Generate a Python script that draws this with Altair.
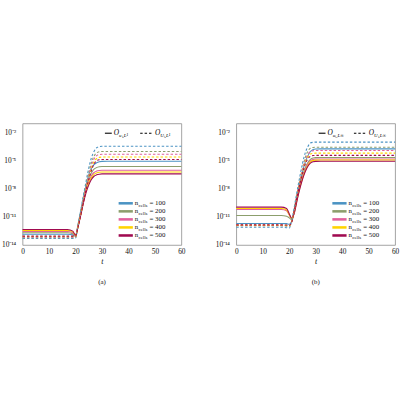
import altair as alt
import pandas as pd

FONT = "Liberation Serif"

# time samples shared by every curve
T = [0, 17, 19, 20, 21, 22, 23, 24, 25, 26, 27, 28, 29, 30, 32, 60]
N_CELLS = [100, 200, 300, 400, 500]
COLORS = ["#4b93c3", "#8c9e6c", "#e0609c", "#ffd400", "#a00a50"]

# log10 of the observables at T, one list per mesh size
A_SOLID = {
    100: [-12.85, -12.85, -12.92, -13.05, -11.75, -10.3, -8.9, -7.6, -6.5, -5.8, -5.4, -5.2, -5.1, -5.06, -5.05, -5.05],
    200: [-12.7, -12.7, -12.8, -13.05, -11.85, -10.45, -9.1, -7.8, -6.9, -6.3, -5.9, -5.72, -5.64, -5.61, -5.6, -5.6],
    300: [-12.55, -12.55, -12.68, -13.0, -11.9, -10.6, -9.3, -8.1, -7.2, -6.6, -6.25, -6.1, -6.03, -6.0, -6.0, -6.0],
    400: [-12.45, -12.45, -12.6, -12.98, -11.95, -10.7, -9.4, -8.25, -7.4, -6.8, -6.45, -6.3, -6.23, -6.2, -6.2, -6.2],
    500: [-12.35, -12.35, -12.52, -12.95, -12.0, -10.8, -9.5, -8.4, -7.6, -7.0, -6.65, -6.5, -6.43, -6.4, -6.4, -6.4],
}
A_DASHED = {
    100: [-13.3, -13.3, -13.3, -13.28, -11.9, -10.3, -8.7, -7.2, -5.8, -4.7, -4.0, -3.6, -3.48, -3.45, -3.45, -3.45],
    200: [-13.22, -13.22, -13.22, -13.2, -12.0, -10.5, -9.0, -7.6, -6.3, -5.2, -4.5, -4.15, -4.03, -4.0, -4.0, -4.0],
    300: [-13.15, -13.15, -13.15, -13.15, -12.05, -10.6, -9.15, -7.8, -6.6, -5.5, -4.8, -4.45, -4.33, -4.3, -4.3, -4.3],
    400: [-13.1, -13.1, -13.1, -13.1, -12.1, -10.7, -9.3, -8.0, -6.8, -5.8, -5.1, -4.75, -4.63, -4.6, -4.6, -4.6],
    500: [-13.05, -13.05, -13.05, -13.05, -12.1, -10.8, -9.4, -8.1, -7.0, -6.05, -5.35, -5.0, -4.88, -4.85, -4.85, -4.85],
}
B_SOLID = {
    100: [-11.7, -11.7, -11.72, -11.78, -11.5, -10.2, -8.6, -7.3, -6.2, -5.2, -4.5, -4.0, -3.8, -3.73, -3.72, -3.72],
    200: [-10.85, -10.85, -10.92, -11.1, -11.3, -10.3, -8.9, -7.7, -6.7, -5.8, -5.2, -4.85, -4.7, -4.66, -4.65, -4.65],
    300: [-10.2, -10.2, -10.35, -10.8, -11.2, -10.4, -9.0, -7.8, -6.8, -6.0, -5.35, -5.0, -4.85, -4.81, -4.8, -4.8],
    400: [-10.1, -10.1, -10.25, -10.75, -11.2, -10.45, -9.1, -7.9, -6.9, -6.1, -5.5, -5.1, -4.97, -4.93, -4.92, -4.92],
    500: [-9.95, -9.95, -10.1, -10.65, -11.15, -10.5, -9.2, -8.0, -7.0, -6.2, -5.6, -5.25, -5.1, -5.06, -5.05, -5.05],
}
B_DASHED = {
    100: [-12.1, -12.1, -12.15, -12.2, -11.3, -9.8, -8.2, -6.7, -5.3, -4.2, -3.5, -3.1, -3.02, -3.0, -3.0, -3.0],
    200: [-11.95, -11.95, -11.98, -12.0, -11.4, -10.0, -8.5, -7.1, -5.8, -4.7, -4.0, -3.65, -3.57, -3.55, -3.55, -3.55],
    300: [-11.9, -11.9, -11.92, -11.95, -11.45, -10.1, -8.6, -7.3, -6.0, -5.0, -4.35, -4.0, -3.92, -3.9, -3.9, -3.9],
    400: [-11.88, -11.88, -11.9, -11.93, -11.45, -10.15, -8.7, -7.4, -6.2, -5.2, -4.6, -4.28, -4.2, -4.18, -4.18, -4.18],
    500: [-11.85, -11.85, -11.87, -11.9, -11.5, -10.2, -8.8, -7.5, -6.35, -5.4, -4.8, -4.52, -4.44, -4.42, -4.42, -4.42],
}

X_TICKS = [0, 10, 20, 30, 40, 50, 60]
Y_TICKS = [1e-14, 1e-11, 1e-8, 1e-5, 1e-2]
Y_LABELS = (
    "datum.value < 1e-13 ? '10⁻¹⁴' : datum.value < 1e-10 ? '10⁻¹¹' : "
    "datum.value < 1e-7 ? '10⁻⁸' : datum.value < 1e-4 ? '10⁻⁵' : '10⁻²'"
)

W, H = 162, 124
DASH = [2.5, 2]


def one(**kw):
    return pd.DataFrame([kw])


def norm_legend(sub):
    """Solid / dashed key at the top right of a panel."""
    layers = []
    x0 = W - 78
    for k, (dash, letter) in enumerate(((None, "u"), (DASH, "U"))):
        xs = x0 + k * 36
        rule_kw = dict(color="black", strokeWidth=1.1)
        if dash:
            rule_kw["strokeDash"] = dash
        layers.append(
            alt.Chart(one(k=k)).mark_rule(**rule_kw).encode(
                x=alt.value(xs), x2=alt.value(xs + 7 + 6 * k), y=alt.value(10)
            )
        )
        xt = xs + 9 + 6 * k
        layers.append(
            alt.Chart(one(k=k)).mark_text(
                font=FONT, fontSize=7.5, fontStyle="italic", align="left", baseline="middle"
            ).encode(x=alt.value(xt), y=alt.value(10), text=alt.value("O"))
        )
        layers.append(
            alt.Chart(one(k=k)).mark_text(
                font=FONT, fontSize=5, fontStyle="italic", align="left", baseline="middle"
            ).encode(x=alt.value(xt + 5.5), y=alt.value(12), text=alt.value(f"{letter}ₜ,L{sub}"))
        )
    return layers


def cells_legend():
    """Colour key for the mesh sizes, bottom right of a panel."""
    layers = []
    for i, (n, c) in enumerate(zip(N_CELLS, COLORS)):
        y = 81.5 + 8.2 * i
        layers.append(
            alt.Chart(one(n=n)).mark_rule(color=c, strokeWidth=2.6).encode(
                x=alt.value(98), x2=alt.value(112.5), y=alt.value(y)
            )
        )
        txt = dict(font=FONT, align="left", baseline="middle", color="#111")
        layers.append(
            alt.Chart(one(n=n)).mark_text(fontSize=7, **txt).encode(
                x=alt.value(114.5), y=alt.value(y - 0.5), text=alt.value("n")
            )
        )
        layers.append(
            alt.Chart(one(n=n)).mark_text(fontSize=5, **txt).encode(
                x=alt.value(118.3), y=alt.value(y + 1.3), text=alt.value("cells")
            )
        )
        layers.append(
            alt.Chart(one(n=n)).mark_text(fontSize=7, **txt).encode(
                x=alt.value(129.5), y=alt.value(y - 0.5), text=alt.value(f"= {n}")
            )
        )
    return layers


def panel(solid, dashed, caption, sub):
    rows = []
    for style, table in (("solid", solid), ("dashed", dashed)):
        for n in N_CELLS:
            for t, e in zip(T, table[n]):
                rows.append({"t": t, "value": 10.0 ** e, "n": n, "style": style})
    df = pd.DataFrame(rows)

    base = alt.Chart(df).encode(
        x=alt.X(
            "t:Q",
            scale=alt.Scale(domain=[0, 60], nice=False),
            axis=alt.Axis(
                values=X_TICKS, title="t", titleFontStyle="italic", titleFontWeight="normal",
                titleFontSize=8, titlePadding=2, labelPadding=3, ticks=False, domain=False,
                grid=False, labelFlush=False,
            ),
        ),
        y=alt.Y(
            "value:Q",
            scale=alt.Scale(type="log", domain=[1e-14, 1e-1], nice=False),
            axis=alt.Axis(
                values=Y_TICKS, labelExpr=Y_LABELS, title=None, ticks=False, domain=False,
                grid=False, labelPadding=7, minExtent=22, maxExtent=22, labelFlush=False,
            ),
        ),
        color=alt.Color("n:N", scale=alt.Scale(domain=N_CELLS, range=COLORS), legend=None),
        detail="n:N",
    )
    solid_lines = base.transform_filter(alt.datum.style == "solid").mark_line(
        strokeWidth=1.1, interpolate="monotone"
    )
    dashed_lines = base.transform_filter(alt.datum.style == "dashed").mark_line(
        strokeWidth=1.1, strokeDash=DASH, interpolate="monotone"
    )
    return alt.layer(
        solid_lines, dashed_lines, *norm_legend(sub), *cells_legend()
    ).properties(
        width=W,
        height=H,
        title=alt.TitleParams(
            caption, orient="bottom", font=FONT, fontSize=7, fontWeight="normal",
            color="#111", offset=13,
        ),
    )


left = panel(A_SOLID, A_DASHED, "(a)", "¹")
right = panel(B_SOLID, B_DASHED, "(b)", "∞")

chart = (
    alt.hconcat(left, right, spacing=28)
    .properties(padding={"left": 0, "top": 122, "right": 0, "bottom": 0}, background="white")
    .configure_view(stroke="#8a8a8a", strokeWidth=0.8)
    .configure_axis(labelFont=FONT, labelFontSize=7.5, labelColor="#111", titleFont=FONT, titleColor="#111")
)

chart.save("out.html", embed_options={"renderer": "svg", "actions": False})
